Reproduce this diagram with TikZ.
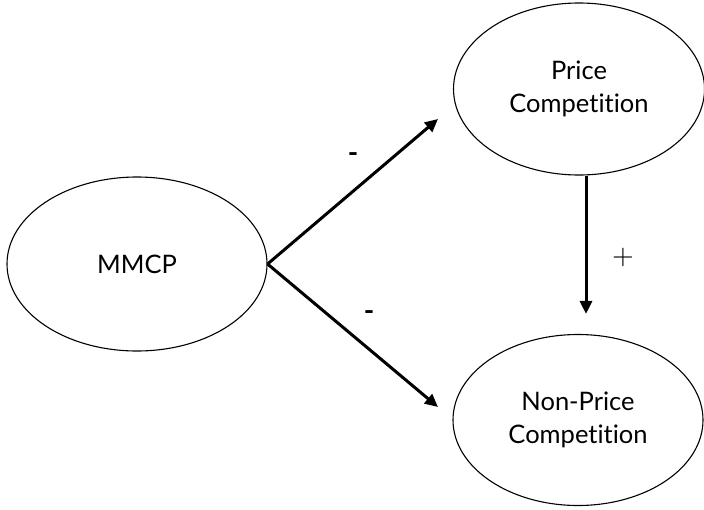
\documentclass[tikz,border=0pt]{standalone}
\usepackage{fontspec}
\setmainfont[Ligatures={NoCommon}]{Lato}
\usetikzlibrary{shapes.geometric,arrows.meta}

\tikzset{
  construct/.style={ellipse, draw, line width=1.1pt, inner sep=0pt,
    align=center, font=\fontsize{25.5}{33}\selectfont},
  effect/.style={-{Triangle[length=13pt,width=12pt]}, line width=3pt},
  sign/.style={font=\fontsize{28}{30}\selectfont\bfseries}
}

\begin{document}
\begin{tikzpicture}[x=1pt, y=-1pt]
    \useasboundingbox (0,0) rectangle (704,509);

    \begin{scope}[every node/.style={construct}]
      \node[minimum width=260pt, minimum height=174pt] (mmcp) at (137, 264) {MMCP};
      \node[minimum width=251pt, minimum height=172pt] (price) at (579, 89) {Price\\Competition};
      \node[minimum width=250pt, minimum height=171pt] (nonprice) at (578, 420) {Non-Price\\Competition};
    \end{scope}

    \coordinate (uptip) at (438, 119);
    \coordinate (downtip) at (438, 407);

    \draw[effect] (mmcp.east) -- (uptip);
    \draw[effect] (mmcp.east) -- (downtip);
    \draw[effect, shorten >=20pt] ([xshift=7pt]price.south) -- ([xshift=8pt]nonprice.north);

    \node[sign] (minusup) at (353, 158) {-};
    \node[sign] (minusdown) at (369, 316) {-};
    \node[scale=2.8] (plus) at (623, 257) {$+$};
  \end{tikzpicture}
\end{document}
